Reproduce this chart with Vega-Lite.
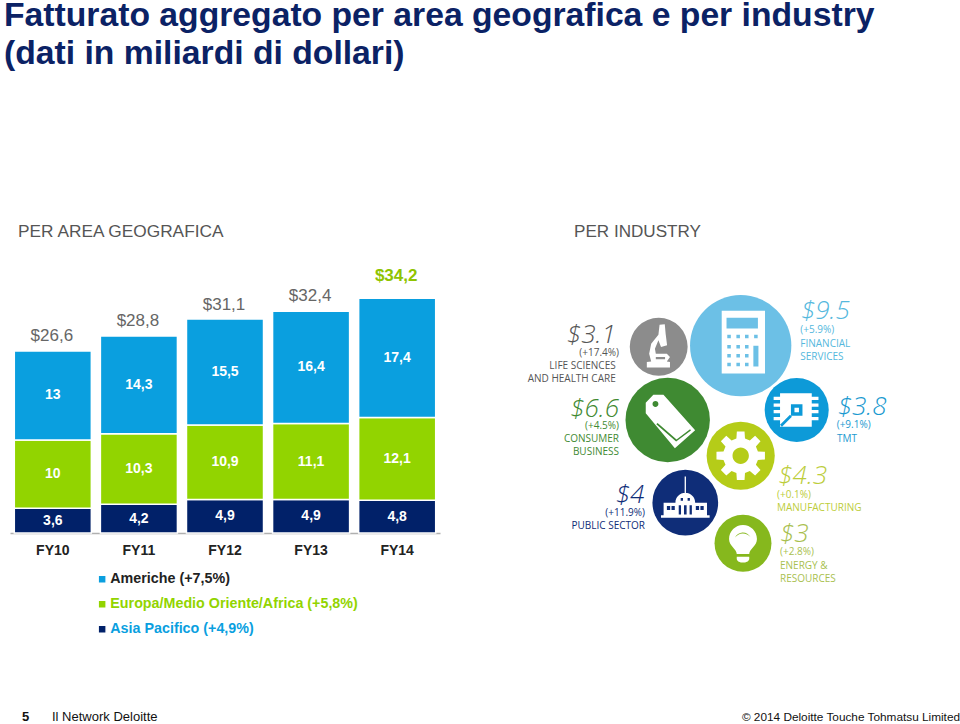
{
"$schema":"https://vega.github.io/schema/vega-lite/v6.json",
"padding":{"left":0,"right":0,"top":-2,"bottom":0},
"background":"white",
"config":{"view":{"stroke":null},"font":"Liberation Sans","concat":{"spacing":0}},
"title":{"text":["Fatturato aggregato per area geografica e per industry","(dati in miliardi di dollari)"],"anchor":"start","frame":"group","font":"Liberation Sans","fontSize":33.7,"fontWeight":"bold","color":"#0b2265","lineHeight":38.5,"dx":4,"offset":152,"baseline":"top"},
"datasets":{
"segments":[
{"year":"FY10","region":"Asia Pacifico (+4,9%)","rank":1,"value":3.6,"label":"3,6"},
{"year":"FY10","region":"Europa/Medio Oriente/Africa (+5,8%)","rank":2,"value":10,"label":"10"},
{"year":"FY10","region":"Americhe (+7,5%)","rank":3,"value":13,"label":"13"},
{"year":"FY11","region":"Asia Pacifico (+4,9%)","rank":1,"value":4.2,"label":"4,2"},
{"year":"FY11","region":"Europa/Medio Oriente/Africa (+5,8%)","rank":2,"value":10.3,"label":"10,3"},
{"year":"FY11","region":"Americhe (+7,5%)","rank":3,"value":14.3,"label":"14,3"},
{"year":"FY12","region":"Asia Pacifico (+4,9%)","rank":1,"value":4.9,"label":"4,9"},
{"year":"FY12","region":"Europa/Medio Oriente/Africa (+5,8%)","rank":2,"value":10.9,"label":"10,9"},
{"year":"FY12","region":"Americhe (+7,5%)","rank":3,"value":15.5,"label":"15,5"},
{"year":"FY13","region":"Asia Pacifico (+4,9%)","rank":1,"value":4.9,"label":"4,9"},
{"year":"FY13","region":"Europa/Medio Oriente/Africa (+5,8%)","rank":2,"value":11.1,"label":"11,1"},
{"year":"FY13","region":"Americhe (+7,5%)","rank":3,"value":16.4,"label":"16,4"},
{"year":"FY14","region":"Asia Pacifico (+4,9%)","rank":1,"value":4.8,"label":"4,8"},
{"year":"FY14","region":"Europa/Medio Oriente/Africa (+5,8%)","rank":2,"value":12.1,"label":"12,1"},
{"year":"FY14","region":"Americhe (+7,5%)","rank":3,"value":17.4,"label":"17,4"}
],
"totals":[
{"year":"FY10","total":26.6,"label":"$26,6"},
{"year":"FY11","total":28.8,"label":"$28,8"},
{"year":"FY12","total":31.1,"label":"$31,1"},
{"year":"FY13","total":32.4,"label":"$32,4"},
{"year":"FY14","total":34.2,"label":"$34,2"}
],
"bubbles":[
{"industry":"Financial Services","value":9.5,"cx":740.7,"cy":345.7},
{"industry":"Life Sciences","value":3.1,"cx":658.7,"cy":346.7},
{"industry":"Consumer Business","value":6.6,"cx":667.7,"cy":420},
{"industry":"TMT","value":3.8,"cx":796.7,"cy":410},
{"industry":"Manufacturing","value":4.3,"cx":740.7,"cy":455.7},
{"industry":"Public Sector","value":4,"cx":685.3,"cy":502.7},
{"industry":"Energy","value":3,"cx":743,"cy":543.3}
],
"bubbleText":[
{"industry":"Life Sciences","side":"left","kind":"value","text":"$3.1","tx":615.7,"ty":343},
{"industry":"Life Sciences","side":"left","kind":"detail","text":"(+17.4%)","tx":619,"ty":356},
{"industry":"Life Sciences","side":"left","kind":"detail","text":"LIFE SCIENCES","tx":615.7,"ty":369.3},
{"industry":"Life Sciences","side":"left","kind":"detail","text":"AND HEALTH CARE","tx":615.7,"ty":382.3},
{"industry":"Consumer Business","side":"left","kind":"value","text":"$6.6","tx":619,"ty":416.7},
{"industry":"Consumer Business","side":"left","kind":"detail","text":"(+4.5%)","tx":619,"ty":429},
{"industry":"Consumer Business","side":"left","kind":"detail","text":"CONSUMER","tx":619,"ty":442.3},
{"industry":"Consumer Business","side":"left","kind":"detail","text":"BUSINESS","tx":619,"ty":455},
{"industry":"Public Sector","side":"left","kind":"value","text":"$4","tx":644.3,"ty":503},
{"industry":"Public Sector","side":"left","kind":"detail","text":"(+11.9%)","tx":645,"ty":516},
{"industry":"Public Sector","side":"left","kind":"detail","text":"PUBLIC SECTOR","tx":645,"ty":529.3},
{"industry":"Financial Services","side":"right","kind":"value","text":"$9.5","tx":801,"ty":319.3},
{"industry":"Financial Services","side":"right","kind":"detail","text":"(+5.9%)","tx":800.3,"ty":333.3},
{"industry":"Financial Services","side":"right","kind":"detail","text":"FINANCIAL","tx":800.3,"ty":346.7},
{"industry":"Financial Services","side":"right","kind":"detail","text":"SERVICES","tx":800.3,"ty":360},
{"industry":"TMT","side":"right","kind":"value","text":"$3.8","tx":837.7,"ty":415},
{"industry":"TMT","side":"right","kind":"detail","text":"(+9.1%)","tx":836.7,"ty":428.3},
{"industry":"TMT","side":"right","kind":"detail","text":"TMT","tx":837,"ty":441.7},
{"industry":"Manufacturing","side":"right","kind":"value","text":"$4.3","tx":778.3,"ty":484},
{"industry":"Manufacturing","side":"right","kind":"detail","text":"(+0.1%)","tx":777,"ty":498.3},
{"industry":"Manufacturing","side":"right","kind":"detail","text":"MANUFACTURING","tx":777,"ty":511},
{"industry":"Energy","side":"right","kind":"value","text":"$3","tx":780,"ty":541.7},
{"industry":"Energy","side":"right","kind":"detail","text":"(+2.8%)","tx":780,"ty":555},
{"industry":"Energy","side":"right","kind":"detail","text":"ENERGY &","tx":780,"ty":568.7},
{"industry":"Energy","side":"right","kind":"detail","text":"RESOURCES","tx":780,"ty":581.7}
],
"footer":[
{"text":"5","tx":22,"part":"page"},
{"text":"Il Network Deloitte","tx":52,"part":"left"},
{"text":"© 2014 Deloitte  Touche  Tohmatsu Limited","tx":960,"part":"right"}
]
},
"resolve":{"scale":{"color":"independent"},"legend":{"color":"independent"}},
"vconcat":[
{"resolve":{"scale":{"color":"independent"},"legend":{"color":"independent"}},
"hconcat":[
{
"width":440,"height":288,
"title":{"text":"PER AREA GEOGRAFICA","anchor":"start","frame":"group","dx":18,"offset":5,"fontSize":17.3,"fontWeight":"normal","color":"#555555","font":"Liberation Sans"},
"layer":[
{"data":{"name":"segments"},"mark":{"type":"bar","stroke":"white","strokeWidth":1.5},
"encoding":{
"x":{"field":"year","type":"nominal","scale":{"range":[10,440],"paddingInner":0.105,"paddingOuter":0.05},"axis":{"title":null,"labelAngle":0,"ticks":false,"labelPadding":10,"labelFont":"Liberation Sans","labelFontSize":14,"labelFontWeight":"bold","labelColor":"#222222","domainColor":"#b0b0b0","domainWidth":1.5,"grid":false}},
"y":{"field":"value","type":"quantitative","stack":"zero","scale":{"domain":[0,42.1],"nice":false},"axis":null},
"order":{"field":"rank","type":"quantitative"},
"color":{"field":"region","type":"nominal","scale":{"domain":["Americhe (+7,5%)","Europa/Medio Oriente/Africa (+5,8%)","Asia Pacifico (+4,9%)"],"range":["#0a9fdf","#92d400","#012169"]},
"legend":{"orient":"none","legendX":95,"legendY":327,"title":null,"symbolType":"square","symbolSize":64,"symbolOpacity":1,"labelFont":"Liberation Sans","labelFontSize":14.3,"labelFontWeight":"bold","labelLimit":400,"rowPadding":10,"labelOffset":1,"encoding":{"labels":{"fill":{"condition":[{"test":"datum.label==='Americhe (+7,5%)'","value":"#222222"},{"test":"datum.label==='Asia Pacifico (+4,9%)'","value":"#0a9fdf"}],"value":"#92d400"}}}}}
}},
{"data":{"name":"segments"},"mark":{"type":"text","font":"Liberation Sans","fontSize":14,"fontWeight":"bold","fill":"white"},
"encoding":{
"x":{"field":"year","type":"nominal"},
"y":{"field":"value","type":"quantitative","stack":"zero","bandPosition":0.5,"scale":{"domain":[0,42.1],"nice":false}},
"order":{"field":"rank","type":"quantitative"},
"text":{"field":"label"}
}},
{"data":{"name":"totals"},"transform":[{"filter":"datum.year!=='FY14'"}],"mark":{"type":"text","font":"Liberation Sans","fontSize":17,"fill":"#666666","dy":-15,"dx":-1},
"encoding":{
"x":{"field":"year","type":"nominal"},
"y":{"field":"total","type":"quantitative","scale":{"domain":[0,42.1],"nice":false}},
"text":{"field":"label"}
}},
{"data":{"name":"totals"},"transform":[{"filter":"datum.year==='FY14'"}],"mark":{"type":"text","font":"Liberation Sans","fontSize":17,"fontWeight":"bold","fill":"#8fc400","dy":-23,"dx":-1},
"encoding":{
"x":{"field":"year","type":"nominal"},
"y":{"field":"total","type":"quantitative","scale":{"domain":[0,42.1],"nice":false}},
"text":{"field":"label"}
}}
]
},
{
"width":510,"height":355,
"title":{"text":"PER INDUSTRY","anchor":"start","frame":"group","dx":124,"offset":5,"fontSize":17.1,"fontWeight":"normal","color":"#555555","font":"Liberation Sans"},
"layer":[
{"data":{"name":"bubbles"},"mark":{"type":"circle","opacity":1},
"encoding":{
"x":{"field":"cx","type":"quantitative","scale":{"domain":[450,960],"nice":false,"zero":false},"axis":null},
"y":{"field":"cy","type":"quantitative","scale":{"domain":[600,245],"nice":false,"zero":false},"axis":null},
"size":{"field":"value","type":"quantitative","scale":{"domain":[0,10],"range":[0,10800]},"legend":null},
"color":{"field":"industry","type":"nominal","scale":{"domain":["Financial Services","Life Sciences","Consumer Business","TMT","Manufacturing","Public Sector","Energy"],"range":["#6cc0e6","#8c8c8c","#3f8a32","#0d9ad8","#b5cc18","#0f2d78","#86b81d"]},"legend":null}
}},
{"data":{"name":"bubbles"},"mark":{"type":"point","filled":true,"fill":"white","opacity":1,"strokeWidth":0},
"encoding":{
"x":{"field":"cx","type":"quantitative","scale":{"domain":[450,960],"nice":false,"zero":false}},
"y":{"field":"cy","type":"quantitative","scale":{"domain":[600,245],"nice":false,"zero":false}},
"size":{"field":"value","type":"quantitative","scale":{"domain":[0,10],"range":[0,10800]},"legend":null},
"shape":{"field":"industry","type":"nominal","legend":null,"scale":{"domain":["Financial Services","Life Sciences","Consumer Business","TMT","Manufacturing","Public Sector","Energy"],"range":[
"M -.375 -.69 H .48 V .55 H -.375 Z M -.28 -.55 V -.34 H .34 V -.55 Z M -.265 -.215 V -.145 H -.195 V -.215 Z M -.085 -.215 V -.145 H -.015 V -.215 Z M .085 -.215 V -.145 H .155 V -.215 Z M .265 -.215 V -.145 H .335 V -.215 Z M -.265 -.015 V .055 H -.195 V -.015 Z M -.085 -.015 V .055 H -.015 V -.015 Z M .085 -.015 V .055 H .155 V -.015 Z M -.265 .165 V .235 H -.195 V .165 Z M -.085 .165 V .235 H -.015 V .165 Z M .085 .165 V .235 H .155 V .165 Z M -.265 .335 V .405 H -.195 V .335 Z M -.085 .335 V .405 H -.015 V .335 Z M .085 .335 V .405 H .155 V .335 Z M .25 0 V .41 H .35 V 0 Z",
"M .03 -.76 L .21 -.78 L .24 -.45 L .29 -.05 L .08 .01 L -.01 -.22 L -.13 .07 L -.10 .24 L .28 .24 L .39 .36 L .28 .51 L .39 .53 L .39 .72 L -.41 .72 L -.41 .53 L -.26 .51 L -.33 .24 L -.26 -.10 L -.01 -.41 Z M -.1 .36 V .43 H .22 V .36 Z",
"M -.52 -.41 L -.34 -.6 L -.10 -.6 L .65 .24 L .17 .67 L -.52 -.16 Z M -.22 -.38 A .07 .07 0 1 0 -.36 -.38 A .07 .07 0 1 0 -.22 -.38 Z M -.27 .1 L .2 .51 L .55 .25 L .53 .22 L .21 .46 L -.24 .07 Z",
"M -.52 -.52 H .47 V .52 H -.52 Z M -.18 -.18 V .18 H .18 V -.18 Z M -.07 -.07 H .07 V .07 H -.07 Z M -.21 .15 L -.52 .46 L -.46 .52 L -.15 .21 Z M -.72 -.41 H -.52 V -.31 H -.72 Z M -.72 -.2 H -.52 V -.1 H -.72 Z M -.72 0 H -.52 V .1 H -.72 Z M -.72 .22 H -.52 V .32 H -.72 Z M .47 -.41 H .68 V -.31 H .47 Z M .47 -.2 H .68 V -.1 H .47 Z M .47 0 H .68 V .1 H .47 Z M .47 .22 H .68 V .32 H .47 Z",
"M -.126 -.505 L -.113 -.711 L .113 -.711 L .126 -.505 L .268 -.446 L .423 -.582 L .582 -.423 L .446 -.268 L .505 -.126 L .711 -.113 L .711 .113 L .505 .126 L .446 .268 L .582 .423 L .423 .582 L .268 .446 L .126 .505 L .113 .711 L -.113 .711 L -.126 .505 L -.268 .446 L -.423 .582 L -.582 .423 L -.446 .268 L -.505 .126 L -.711 .113 L -.711 -.113 L -.505 -.126 L -.446 -.268 L -.582 -.423 L -.423 -.582 L -.268 -.446 Z M .24 0 A .24 .24 0 1 0 -.24 0 A .24 .24 0 1 0 .24 0 Z",
"M -.66 0 H -.3 A .3 .3 0 0 1 .3 0 H .66 V .38 H .74 V .46 H -.74 V .38 H -.66 Z M -.02 -.8 H .02 V -.25 H -.02 Z M -.56 .1 V .22 H -.46 V .1 Z M -.42 .1 V .22 H -.32 V .1 Z M .32 .1 V .22 H .42 V .1 Z M .46 .1 V .22 H .56 V .1 Z M -.2 .08 V .36 H -.13 V .08 Z M -.04 .08 V .36 H .04 V .08 Z M .13 .08 V .36 H .2 V .08 Z M -.14 -.14 V -.06 H -.07 V -.14 Z M .07 -.14 V -.06 H .14 V -.14 Z",
"M -.22 .38 C -.22 .2 -.49 .1 -.49 -.15 A .49 .49 0 0 1 .49 -.15 C .49 .1 .22 .2 .22 .38 Z M .26 -.22 A .3 .3 0 0 0 -.28 -.2 A .34 .34 0 0 1 .26 -.22 Z M -.22 .47 H .22 V .55 C .2 .72 -.2 .72 -.22 .55 Z"
]}}
}},
{"data":{"name":"bubbleText"},"transform":[{"filter":"datum.kind==='value'&&datum.side==='left'"}],"mark":{"type":"text","font":"Open Sans","fontStyle":"italic","fontWeight":300,"fontSize":26,"align":"right","baseline":"alphabetic"},
"encoding":{"x":{"field":"tx","type":"quantitative","scale":{"domain":[450,960],"nice":false,"zero":false}},"y":{"field":"ty","type":"quantitative","scale":{"domain":[600,245],"nice":false,"zero":false}},"text":{"field":"text"},"fill":{"field":"industry","type":"nominal","legend":null,"scale":{"domain":["Financial Services","Life Sciences","Consumer Business","TMT","Manufacturing","Public Sector","Energy"],"range":["#55b8dd","#555555","#3f8a32","#1a9ad0","#bccd3a","#0f2d78","#a9bf50"]}}}},
{"data":{"name":"bubbleText"},"transform":[{"filter":"datum.kind==='value'&&datum.side==='right'"}],"mark":{"type":"text","font":"Open Sans","fontStyle":"italic","fontWeight":300,"fontSize":26,"align":"left","baseline":"alphabetic"},
"encoding":{"x":{"field":"tx","type":"quantitative","scale":{"domain":[450,960],"nice":false,"zero":false}},"y":{"field":"ty","type":"quantitative","scale":{"domain":[600,245],"nice":false,"zero":false}},"text":{"field":"text"},"fill":{"field":"industry","type":"nominal","legend":null}}},
{"data":{"name":"bubbleText"},"transform":[{"filter":"datum.kind==='detail'&&datum.side==='left'"}],"mark":{"type":"text","font":"Open Sans","fontSize":10,"align":"right","baseline":"alphabetic"},
"encoding":{"x":{"field":"tx","type":"quantitative","scale":{"domain":[450,960],"nice":false,"zero":false}},"y":{"field":"ty","type":"quantitative","scale":{"domain":[600,245],"nice":false,"zero":false}},"text":{"field":"text"},"fill":{"field":"industry","type":"nominal","legend":null}}},
{"data":{"name":"bubbleText"},"transform":[{"filter":"datum.kind==='detail'&&datum.side==='right'"}],"mark":{"type":"text","font":"Open Sans","fontSize":10,"align":"left","baseline":"alphabetic"},
"encoding":{"x":{"field":"tx","type":"quantitative","scale":{"domain":[450,960],"nice":false,"zero":false}},"y":{"field":"ty","type":"quantitative","scale":{"domain":[600,245],"nice":false,"zero":false}},"text":{"field":"text"},"fill":{"field":"industry","type":"nominal","legend":null}}}
]
}
],"spacing":10},
{
"width":960,"height":14,
"layer":[
{"data":{"name":"footer"},"transform":[{"filter":"datum.part==='page'"}],"mark":{"type":"text","font":"Liberation Sans","fontSize":13,"fontWeight":"bold","fill":"#111111","align":"left"},
"encoding":{"x":{"field":"tx","type":"quantitative","scale":{"domain":[0,960],"nice":false},"axis":null},"text":{"field":"text"}}},
{"data":{"name":"footer"},"transform":[{"filter":"datum.part==='left'"}],"mark":{"type":"text","font":"Liberation Sans","fontSize":13,"fill":"#111111","align":"left"},
"encoding":{"x":{"field":"tx","type":"quantitative","scale":{"domain":[0,960],"nice":false},"axis":null},"text":{"field":"text"}}},
{"data":{"name":"footer"},"transform":[{"filter":"datum.part==='right'"}],"mark":{"type":"text","font":"Liberation Sans","fontSize":11.8,"fill":"#111111","align":"right"},
"encoding":{"x":{"field":"tx","type":"quantitative","scale":{"domain":[0,960],"nice":false},"axis":null},"text":{"field":"text"}}}
]
}
],
"spacing":73
}
